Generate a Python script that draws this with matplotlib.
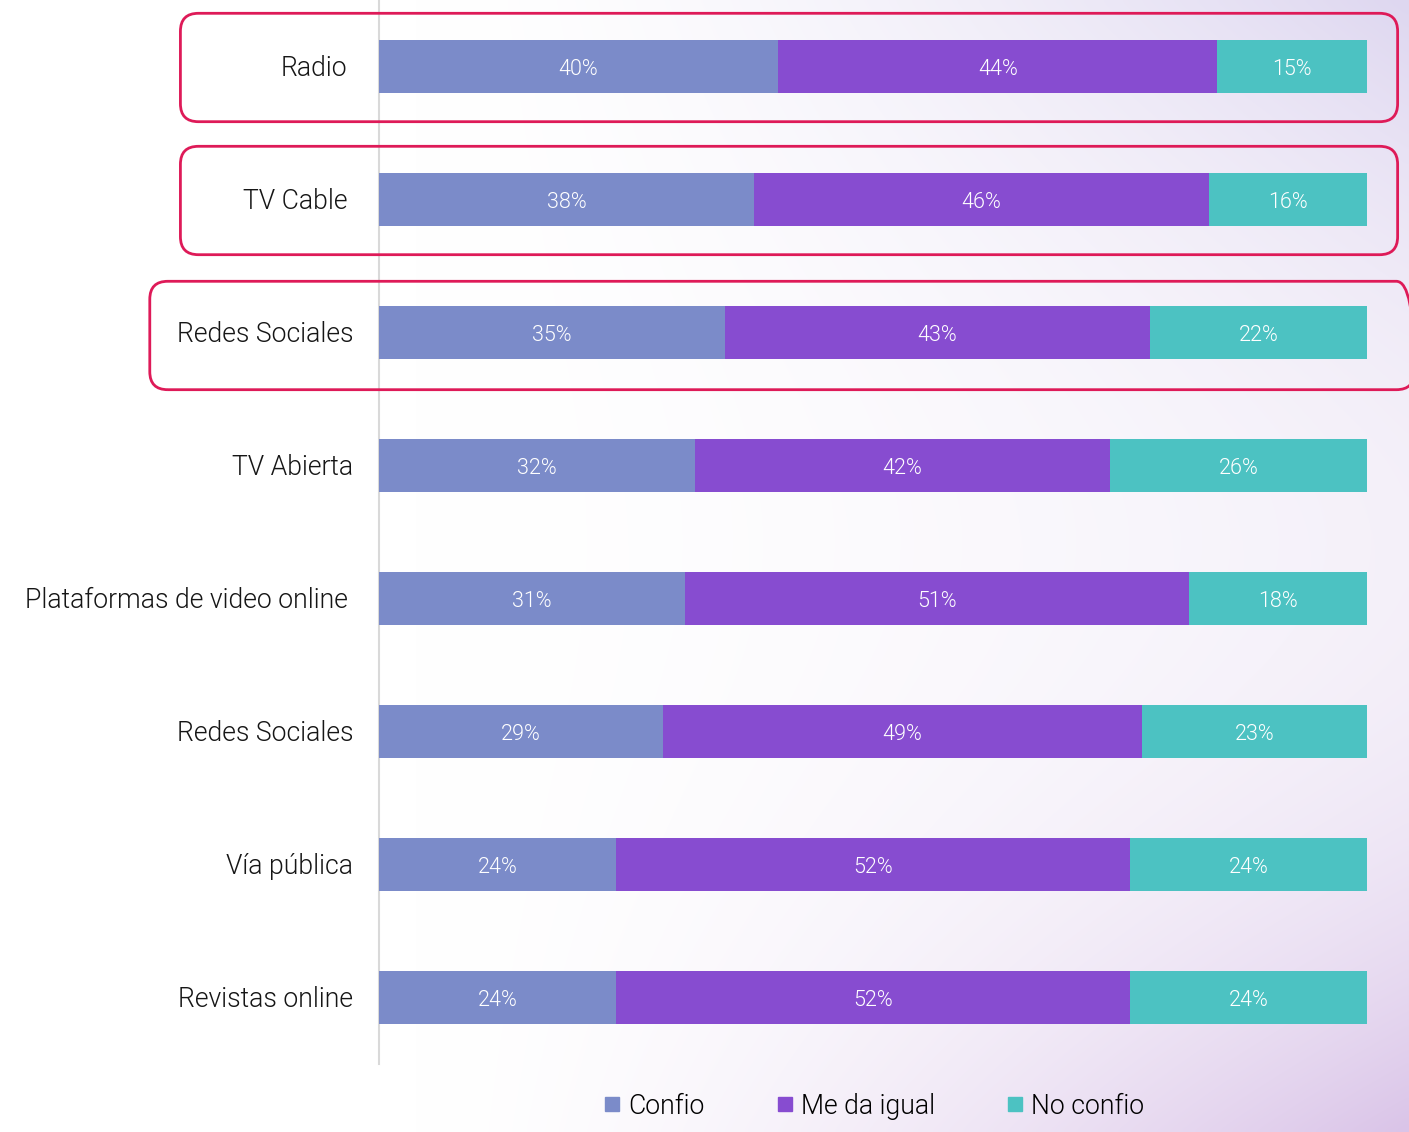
import numpy as np
import matplotlib.pyplot as plt
from matplotlib.patches import FancyBboxPatch
from matplotlib.lines import Line2D

plt.rcParams['font.family'] = ['Roboto', 'DejaVu Sans']

categories = ['Radio', 'TV Cable', 'Redes Sociales', 'TV Abierta',
              'Plataformas de video online', 'Redes Sociales',
              'Vía pública', 'Revistas online']
confio = [40, 38, 35, 32, 31, 29, 24, 24]
me_da_igual = [44, 46, 43, 42, 51, 49, 52, 52]
no_confio = [15, 16, 22, 26, 18, 23, 24, 24]
series_names = ['Confio', 'Me da igual', 'No confio']
colors = ['#7b8bc9', '#874cd0', '#4cc2c2']
highlighted = [0, 1, 2]

W, H = 1409, 1132
fig = plt.figure(figsize=(W / 100, H / 100), dpi=100)

# soft lavender wash towards the right corners
bg = fig.add_axes([0, 0, 1, 1], zorder=-10)
gx, gy = np.meshgrid(np.linspace(0, 1, 300), np.linspace(0, 1, 240))
wx = np.clip((gx - 0.3) / 0.7, 0, 1) ** 1.5
wy = 0.3 + 0.7 * np.abs(2 * gy - 1) ** 2
w = np.clip(wx * wy, 0, 1)
top = np.array([222, 215, 240]) / 255
bot = np.array([218, 196, 232]) / 255
target = top[None, None, :] * (1 - gy[..., None]) + bot[None, None, :] * gy[..., None]
img = (1 - w[..., None]) * 1.0 + w[..., None] * target
bg.imshow(img, extent=[0, 1, 0, 1], origin='upper', aspect='auto', interpolation='bicubic')
bg.set_axis_off()

ax = fig.add_axes([379 / W, (H - 1064) / H, 988 / W, 1064 / H])
ax.patch.set_alpha(0)

# 100% stacked: each row is scaled to its own total
data = np.array([confio, me_da_igual, no_confio], dtype=float)
shares = data / data.sum(axis=0) * 100

y = np.arange(len(categories))
left = np.zeros(len(categories))
for vals, share, name, c in zip(data, shares, series_names, colors):
    ax.barh(y, share, left=left, height=0.4, color=c, label=name, zorder=3)
    for yi, l, s, v in zip(y, left, share, vals):
        ax.text(l + s / 2, yi + 0.02, f'{v:.0f}%', ha='center', va='center',
                color='white', fontsize=15.5, fontweight=300, zorder=4)
    left += share

ax.set_xlim(0, 100)
ax.set_ylim(len(categories) - 0.5, -0.5)
ax.set_xticks([])
ax.set_yticks([])
for s in ['top', 'right', 'bottom']:
    ax.spines[s].set_visible(False)
ax.spines['left'].set_color('#d9d9d9')
ax.spines['left'].set_linewidth(1.5)

label_x = [-3.2, -3.2, -2.6, -2.6, -3.2, -2.6, -2.6, -2.6]
for yi, cat, lx in zip(y, categories, label_x):
    ax.text(lx, yi + 0.015, cat, ha='right', va='center', fontsize=19.2,
            fontweight=300, color='#161616')

# rounded frames around the first rows
fig.canvas.draw()
box_x = {0: (-20.1, 103.1), 1: (-20.1, 103.1), 2: (-23.2, 104.8)}
box_y = {0: (-0.40, 0.415), 1: (-0.40, 0.415), 2: (-0.385, 0.43)}
for i in highlighted:
    x0, x1 = box_x[i]
    ya, yb = box_y[i]
    (px0, py0) = ax.transData.transform((x0, i + yb))
    (px1, py1) = ax.transData.transform((x1, i + ya))
    pad = 18
    frame = FancyBboxPatch((px0 + pad, py0 + pad), (px1 - px0) - 2 * pad, (py1 - py0) - 2 * pad,
                           boxstyle=f'round,pad={pad}', transform=None,
                           facecolor='none', edgecolor='#de1a58', linewidth=2.0,
                           zorder=5)
    fig.add_artist(frame)

handles = [Line2D([], [], marker='s', linestyle='none', markersize=10,
                  markerfacecolor=c, markeredgecolor=c) for c in colors]
fig.legend(handles, series_names, loc='center', bbox_to_anchor=(874 / W, 1 - 1106 / H),
           ncol=3, frameon=False, handlelength=0.6, handletextpad=0.3,
           columnspacing=2.7, prop={'weight': 300, 'size': 19.2})

fig.savefig('out.png', dpi=100)
